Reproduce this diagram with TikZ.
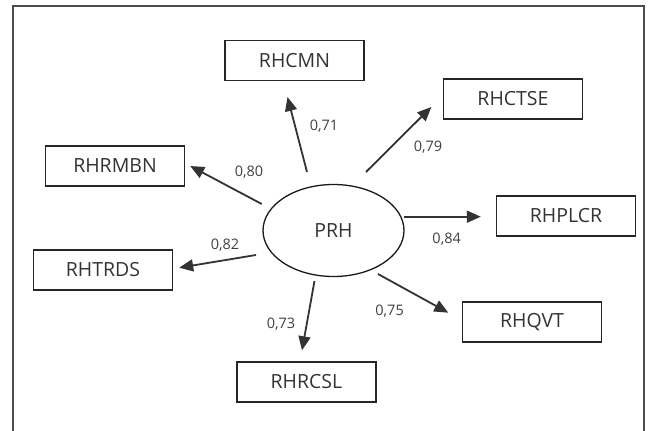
\documentclass[tikz,border=0pt]{standalone}
\usepackage{fontspec}
\setmainfont{Open Sans}
\usetikzlibrary{arrows.meta,shapes.geometric}
\tikzset{
  var/.style={draw=black!85,line width=1.4pt,minimum width=139pt,minimum height=40pt,inner sep=0pt,font=\fontsize{19.5}{22}\selectfont,text=black!80},
  lat/.style={draw=black!90,line width=1.3pt,ellipse,minimum width=141pt,minimum height=92pt,inner sep=0pt,font=\fontsize{19.5}{22}\selectfont,text=black!80},
  arr/.style={-{Triangle[length=14pt,width=12pt]},line width=1.8pt,draw=black!80},
  val/.style={font=\fontsize{14.5}{16}\selectfont,text=black!75}
}
\begin{document}
\begin{tikzpicture}[x=1pt,y=-1pt]
    \useasboundingbox (0,0) rectangle (651,431);
    \draw [line width=2pt,black!70](12.7,431) -- (12.7,6) -- (644,6) -- (644,431);
    \node[lat] (prh) at (333.5,230.5) {PRH};
    \node[var] (rhcmn) at (294.5,60.3) {RHCMN};
    \node[var] (rhctse) at (513,99) {RHCTSE};
    \node[var] (rhrmbn) at (115,166) {RHRMBN};
    \node[var] (rhplcr) at (566,216) {RHPLCR};
    \node[var] (rhtrds) at (103,270) {RHTRDS};
    \node[var] (rhqvt) at (532,322) {RHQVT};
    \node[var] (rhrcsl) at (306.5,382) {RHRCSL};
    \draw [arr]([shift={(-26.5,-58.5)}]prh.center) -- ([shift={(-7,16)}]rhcmn.south);
    \draw [arr]([shift={(32.5,-58.5)}]prh.center) -- ([shift={(-11.5,8)}]rhctse.west);
    \draw [arr]([shift={(-71.8,-26.5)}]prh.center) -- ([shift={(5,0)}]rhrmbn.east);
    \draw [arr]([shift={(70.5,-13.8)}]prh.center) -- ([shift={(-15,0.7)}]rhplcr.west);
    \draw [arr]([shift={(-77.5,24.5)}]prh.center) -- ([shift={(6,-2.3)}]rhtrds.east);
    \draw [arr]([shift={(-19,50.5)}]prh.center) -- ([shift={(-4.5,-11)}]rhrcsl.north);
    \draw [arr]([shift={(44.5,43.5)}]prh.center) -- ([shift={(-13.5,-9.3)}]rhqvt.west);
    \node[val] (l71) at (324,126) {0,71};
    \node[val] (l79) at (428,146.7) {0,79};
    \node[val] (l80) at (249,171.7) {0,80};
    \node[val] (l84) at (446.7,239) {0,84};
    \node[val] (l82) at (225,245) {0,82};
    \node[val] (l73) at (281,324.3) {0,73};
    \node[val] (l75) at (389.6,311) {0,75};
\end{tikzpicture}
\end{document}
